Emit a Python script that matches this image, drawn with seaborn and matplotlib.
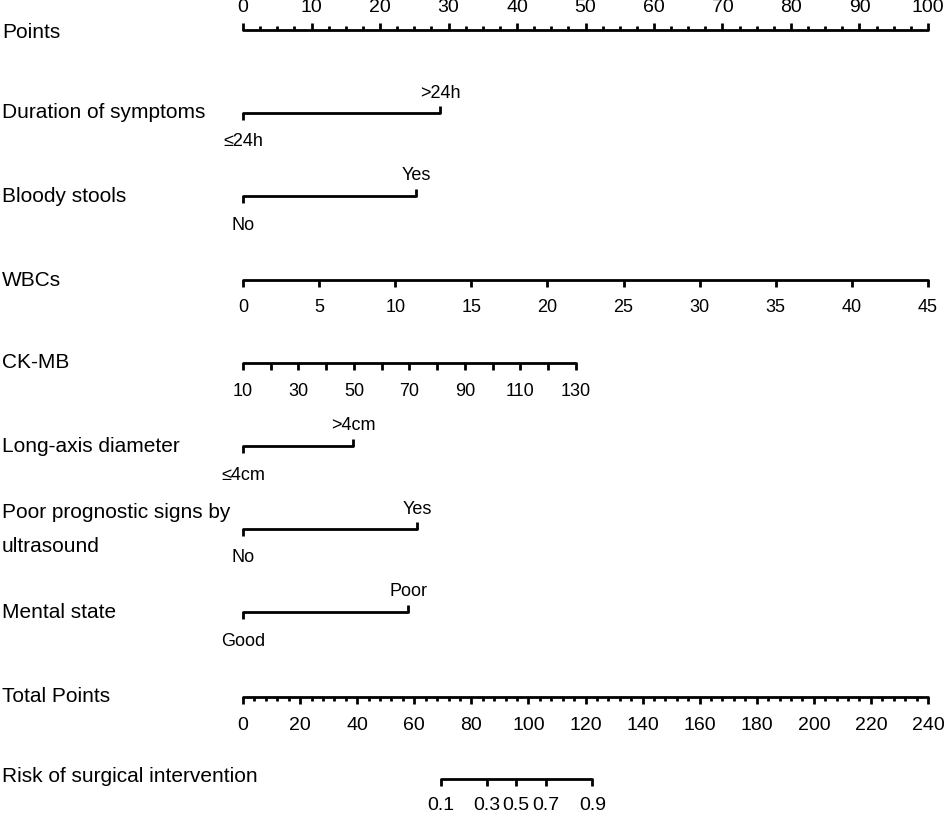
import numpy as np
import pandas as pd
import matplotlib
matplotlib.use("Agg")
import matplotlib.pyplot as plt
import seaborn as sns

# ---------- data ----------
point_ticks = [0, 10, 20, 30, 40, 50, 60, 70, 80, 90, 100]

# categorical predictors: (label at 0 points, label at max, points of max level)
cat_names = ["Duration of symptoms", "Bloody stools", "Long-axis diameter",
             "Poor prognostic signs by\nultrasound", "Mental state"]
cat_low = ["≤24h", "No", "≤4cm", "No", "Good"]
cat_high = [">24h", "Yes", ">4cm", "Yes", "Poor"]
cat_points = [28.8, 25.3, 16.1, 25.4, 24.1]

wbc_values = [0, 5, 10, 15, 20, 25, 30, 35, 40, 45]
wbc_max_points = 100.0

ckmb_values = [10, 20, 30, 40, 50, 60, 70, 80, 90, 100, 110, 120, 130]
ckmb_labels = [10, 30, 50, 70, 90, 110, 130]
ckmb_max_points = 48.6

total_ticks = [0, 20, 40, 60, 80, 100, 120, 140, 160, 180, 200, 220, 240]
risk_labels = ["0.1", "0.3", "0.5", "0.7", "0.9"]
risk_total_points = [69.3, 85.4, 95.5, 106.1, 122.4]

# ---------- layout (pixel rows, y grows downward) ----------
W, H = 945, 816
X0, PPU = 243, 6.85  # pixel of 0 points, pixels per point
rows = {"Points": 30, "Duration of symptoms": 113, "Bloody stools": 196,
        "WBCs": 280, "CK-MB": 363, "Long-axis diameter": 446,
        "Poor prognostic signs by\nultrasound": 529, "Mental state": 612,
        "Total Points": 697, "Risk of surgical intervention": 779}

sns.set_theme(style="white")
plt.rcParams["font.family"] = ["Liberation Sans", "DejaVu Sans"]
plt.rcParams["text.color"] = "black"
NARROW = ["Liberation Sans Narrow", "Liberation Sans", "DejaVu Sans"]

fig = plt.figure(figsize=(W / 100, H / 100), dpi=100)
ax = fig.add_axes([0, 0, 1, 1])
ax.set_xlim(-X0 / PPU, (W - X0) / PPU)
ax.set_ylim(H, 0)
ax.axis("off")

LW = 2.0
MAJ, MIN = 7, 4
NAME_FS, TICK_FS, NUM_FS = 15, 13, 14


def hline(y, x1, x2):
    seg = pd.DataFrame({"x": [x1, x2], "y": [y, y]})
    sns.lineplot(data=seg, x="x", y="y", color="black", lw=LW, ax=ax,
                 estimator=None, sort=False)


def ticks(y, xs, length):
    # positive length = tick goes down, negative = up
    ax.vlines(xs, y, y + length, color="black", lw=LW)


def name(y, text):
    ax.text(2 / PPU - X0 / PPU, y, text, fontsize=NAME_FS, va="center",
            ha="left", linespacing=2.0)


# Points
y = rows["Points"]
name(y + 2, "Points")
hline(y, 0, 100)
ticks(y, point_ticks, -MAJ)
ticks(y, [v for v in np.arange(0, 100.1, 2.5) if v not in point_ticks], -MIN)
for v in point_ticks:
    ax.text(v, y - 22, str(v), fontsize=NUM_FS, ha="center", va="center",
            family=NARROW)

# categorical rows
for nm, lo, hi, pts in zip(cat_names, cat_low, cat_high, cat_points):
    y = rows[nm]
    name(y, nm)
    hline(y, 0, pts)
    ticks(y, [0], MAJ)
    ticks(y, [pts], -MAJ)
    ax.text(0, y + 29, lo, fontsize=TICK_FS, ha="center", va="center")
    ax.text(pts, y - 20, hi, fontsize=TICK_FS, ha="center", va="center")

# WBCs
y = rows["WBCs"]
name(y, "WBCs")
wbc_x = [v * wbc_max_points / wbc_values[-1] for v in wbc_values]
hline(y, wbc_x[0], wbc_x[-1])
ticks(y, wbc_x, MAJ)
for v, x in zip(wbc_values, wbc_x):
    ax.text(x, y + 28, str(v), fontsize=TICK_FS, ha="center", va="center")

# CK-MB
y = rows["CK-MB"]
name(y, "CK-MB")
span = ckmb_values[-1] - ckmb_values[0]
ck_x = [(v - ckmb_values[0]) * ckmb_max_points / span for v in ckmb_values]
hline(y, ck_x[0], ck_x[-1])
ticks(y, ck_x, MAJ)
for v in ckmb_labels:
    x = (v - ckmb_values[0]) * ckmb_max_points / span
    ax.text(x, y + 28, str(v), fontsize=TICK_FS, ha="center", va="center")

# Total Points
y = rows["Total Points"]
name(y, "Total Points")
tp = lambda v: v * 100 / total_ticks[-1]
hline(y, 0, 100)
ticks(y, [tp(v) for v in total_ticks], MAJ)
ticks(y, [tp(v) for v in range(0, 241, 4) if v not in total_ticks], MIN)
for v in total_ticks:
    ax.text(tp(v), y + 28, str(v), fontsize=NUM_FS, ha="center", va="center",
            family=NARROW)

# Risk
y = rows["Risk of surgical intervention"]
ax.text(2 / PPU - X0 / PPU, y - 3, "Risk of surgical intervention",
        fontsize=NAME_FS, va="center", ha="left")
rx = [tp(v) for v in risk_total_points]
hline(y, rx[0], rx[-1])
ticks(y, rx, MAJ)
for lab, x in zip(risk_labels, rx):
    ax.text(x, y + 27, lab, fontsize=NUM_FS, ha="center", va="center",
            family=NARROW)

fig.savefig("out.png", dpi=100)
